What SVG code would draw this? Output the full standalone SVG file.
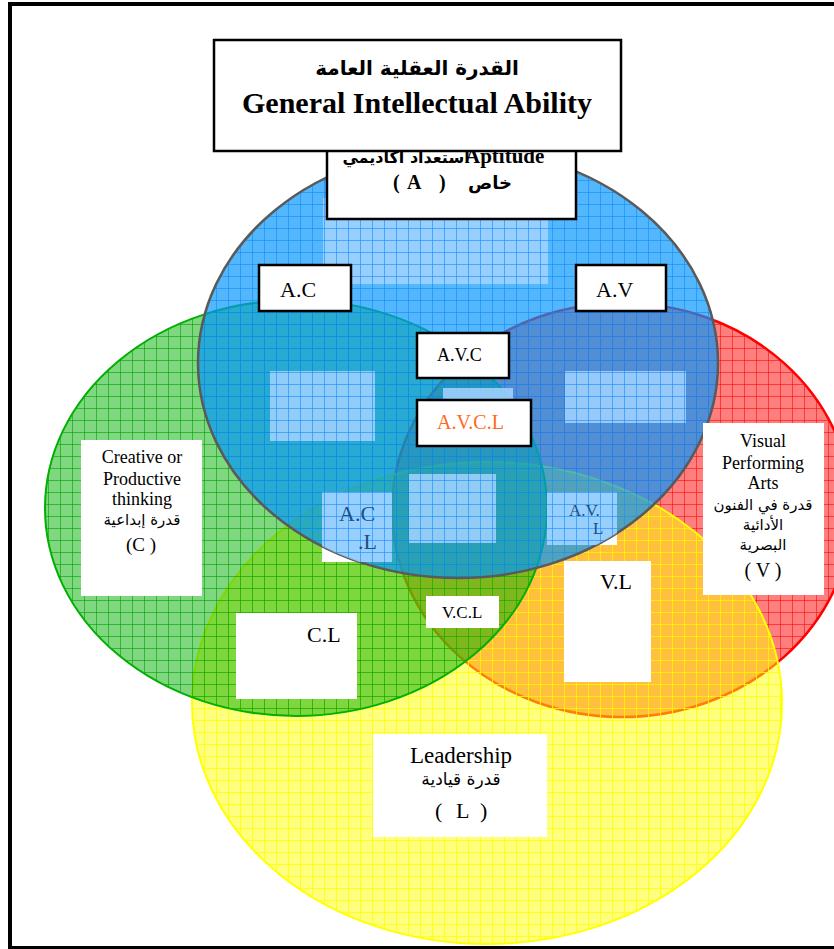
<svg xmlns="http://www.w3.org/2000/svg" width="834" height="949" viewBox="0 0 834 949">
<style>
.en{font-family:"Liberation Serif","Times New Roman",serif;fill:#000}
.ar{font-family:"DejaVu Sans","Noto Sans","Liberation Sans",sans-serif;fill:#000}
.box{fill:#fff;stroke:#000;stroke-width:2.5}
.wbox{fill:#fff}
.light{fill:#a3d4ff;fill-opacity:0.85}
.dk{fill:#1d4f80}
</style>
<defs>
<pattern id="pRed" patternUnits="userSpaceOnUse" width="12" height="12">
<rect width="12" height="12" fill="#ff0000" fill-opacity="0.5"/>
<path d="M0 0.5H12M0.5 0V12" stroke="#ff0000" stroke-opacity="0.55" stroke-width="1"/>
</pattern>
<pattern id="pYel" patternUnits="userSpaceOnUse" width="12" height="12">
<rect width="12" height="12" fill="#ffff00" fill-opacity="0.5"/>
<path d="M0 0.5H12M0.5 0V12" stroke="#ffff00" stroke-opacity="0.8" stroke-width="1"/>
</pattern>
<pattern id="pGrn" patternUnits="userSpaceOnUse" width="12" height="12">
<rect width="12" height="12" fill="#00b000" fill-opacity="0.5"/>
<path d="M0 0.5H12M0.5 0V12" stroke="#00a000" stroke-opacity="0.6" stroke-width="1"/>
</pattern>
<pattern id="pBlu" patternUnits="userSpaceOnUse" width="12" height="12">
<rect width="12" height="12" fill="#0094fa" fill-opacity="0.68"/>
<path d="M0 0.5H12M0.5 0V12" stroke="#0a84ff" stroke-opacity="0.55" stroke-width="1"/>
</pattern>
<pattern id="pBluGrid" patternUnits="userSpaceOnUse" width="12" height="12">
<path d="M0 0.5H12M0.5 0V12" stroke="#1a8cff" stroke-opacity="0.6" stroke-width="1"/>
</pattern>
<clipPath id="clipBlue"><ellipse cx="458" cy="363" rx="260" ry="215"/></clipPath>
</defs>
<rect width="834" height="949" fill="#fff"/>
<rect x="10" y="4" width="850" height="944" fill="none" stroke="#000" stroke-width="4"/>

<g id="circle-V"><ellipse cx="622" cy="510" rx="230" ry="207" fill="url(#pRed)" stroke="#ff0000" stroke-width="2.5"/></g>
<g id="circle-L"><ellipse cx="487" cy="703" rx="295" ry="241" fill="url(#pYel)" stroke="#ffff00" stroke-width="2"/></g>
<g id="circle-C"><ellipse cx="296" cy="508" rx="251" ry="208" fill="url(#pGrn)" stroke="#00b000" stroke-width="2"/></g>

<rect x="322" y="492" width="70" height="70" class="wbox"/>
<rect x="547" y="492" width="70" height="53" class="wbox"/>

<g id="circle-A"><ellipse cx="458" cy="363" rx="260" ry="215" fill="url(#pBlu)" stroke="#5a5a5a" stroke-width="2.5"/></g>

<g id="light-boxes">
<rect x="323" y="198" width="225" height="86" class="light"/>
<rect x="270" y="371" width="105" height="70" class="light"/>
<rect x="565" y="371" width="121" height="52" class="light"/>
<rect x="443" y="388" width="70" height="20" class="light"/>
<rect x="409" y="474" width="87" height="69" class="light"/>
<g clip-path="url(#clipBlue)">
<rect x="322" y="492" width="70" height="70" class="light"/>
<rect x="547" y="492" width="70" height="53" class="light"/>
</g>
<rect x="323" y="198" width="225" height="86" fill="url(#pBluGrid)"/>
<rect x="270" y="371" width="105" height="70" fill="url(#pBluGrid)"/>
<rect x="565" y="371" width="121" height="52" fill="url(#pBluGrid)"/>
<rect x="409" y="474" width="87" height="69" fill="url(#pBluGrid)"/>
<g clip-path="url(#clipBlue)">
<rect x="322" y="492" width="70" height="70" fill="url(#pBluGrid)"/>
<rect x="547" y="492" width="70" height="53" fill="url(#pBluGrid)"/>
</g>
</g>

<g id="node-ACL">
<text class="en dk" x="339" y="521" font-size="22">A.C</text>
<text class="en dk" x="358" y="549" font-size="22">.L</text>
</g>
<g id="node-AVL">
<text class="en dk" x="569" y="516" font-size="17">A.V.</text>
<text class="en dk" x="593" y="534" font-size="17">L</text>
</g>

<g id="node-A">
<rect x="327" y="140" width="249" height="79" class="box"/>
<text class="ar" x="406" y="163" font-size="16" font-weight="bold" text-anchor="middle">استعداد أكاديمي</text>
<text class="en" x="465" y="163" font-size="21" font-weight="bold">Aptitude</text>
<text class="en" y="189" font-size="20" font-weight="bold"><tspan x="393">(</tspan><tspan x="407">A</tspan><tspan x="439">)</tspan></text>
<text class="ar" x="490" y="189" font-size="18" font-weight="bold" text-anchor="middle">خاص</text>
</g>

<g id="node-title">
<rect x="214" y="40" width="407" height="111" class="box"/>
<text class="ar" x="417" y="75" font-size="20" font-weight="bold" text-anchor="middle">القدرة العقلية العامة</text>
<text class="en" x="417" y="113" font-size="30" font-weight="bold" text-anchor="middle">General Intellectual Ability</text>
</g>

<g id="node-AC">
<rect x="259" y="265" width="92" height="46" class="box"/>
<text class="en" x="280" y="297" font-size="22">A.C</text>
</g>
<g id="node-AV">
<rect x="576" y="265" width="90" height="46" class="box"/>
<text class="en" x="596" y="297" font-size="22">A.V</text>
</g>
<g id="node-AVC">
<rect x="417" y="333" width="92" height="45" class="box"/>
<text class="en" x="437" y="361" font-size="18">A.V.C</text>
</g>
<g id="node-AVCL">
<rect x="417" y="400" width="114" height="46" class="box"/>
<text class="en" x="437" y="429" font-size="20" style="fill:#ff6a1a">A.V.C.L</text>
</g>

<g id="node-C">
<rect x="81" y="440" width="121" height="156" class="wbox"/>
<text class="en" x="142" y="463" font-size="18" text-anchor="middle">Creative or</text>
<text class="en" x="142" y="485" font-size="18" text-anchor="middle">Productive</text>
<text class="en" x="142" y="505" font-size="18" text-anchor="middle">thinking</text>
<text class="ar" x="142" y="525" font-size="15" text-anchor="middle">قدرة إبداعية</text>
<text class="en" x="141" y="551" font-size="19" text-anchor="middle">(C )</text>
</g>

<g id="node-V">
<rect x="703" y="423" width="121" height="172" class="wbox"/>
<text class="en" x="763" y="447" font-size="18" text-anchor="middle">Visual</text>
<text class="en" x="763" y="469" font-size="18" text-anchor="middle">Performing</text>
<text class="en" x="763" y="489" font-size="18" text-anchor="middle">Arts</text>
<text class="ar" x="763" y="510" font-size="15" text-anchor="middle">قدرة في الفنون</text>
<text class="ar" x="763" y="530" font-size="15" text-anchor="middle">الأدائية</text>
<text class="ar" x="763" y="550" font-size="15" text-anchor="middle">البصرية</text>
<text class="en" x="763" y="577" font-size="20" text-anchor="middle">( V )</text>
</g>

<g id="node-VL">
<rect x="564" y="561" width="87" height="121" class="wbox"/>
<text class="en" x="600" y="589" font-size="22">V.L</text>
</g>
<g id="node-CL">
<rect x="236" y="613" width="121" height="86" class="wbox"/>
<text class="en" x="307" y="642" font-size="22">C.L</text>
</g>
<g id="node-VCL">
<rect x="426" y="596" width="73" height="32" class="wbox"/>
<text class="en" x="442" y="618" font-size="17">V.C.L</text>
</g>
<g id="node-L">
<rect x="373" y="734" width="174" height="103" class="wbox"/>
<text class="en" x="461" y="763" font-size="23" text-anchor="middle">Leadership</text>
<text class="ar" x="461" y="785" font-size="17" text-anchor="middle">قدرة قيادية</text>
<text class="en" y="818" font-size="22"><tspan x="435">(</tspan><tspan x="456">L</tspan><tspan x="480">)</tspan></text>
</g>
<g id="connectors"/>
</svg>
